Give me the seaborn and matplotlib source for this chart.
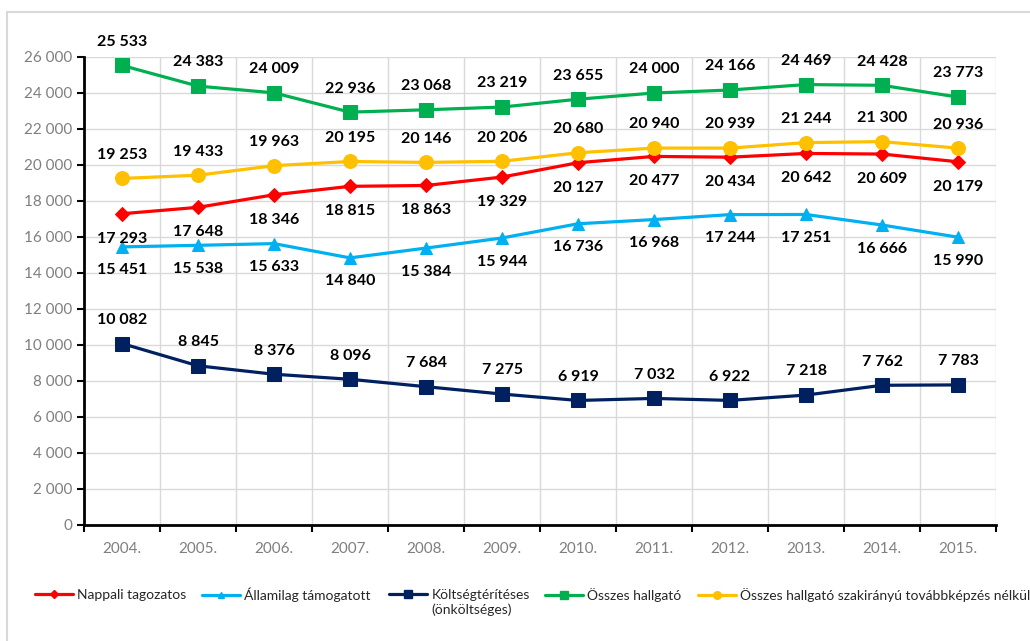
import numpy as np
import pandas as pd
import matplotlib.pyplot as plt
import seaborn as sns
from matplotlib.lines import Line2D
from matplotlib.patches import Rectangle
from matplotlib.ticker import FuncFormatter

# Chart data
years = ['2004.', '2005.', '2006.', '2007.', '2008.', '2009.',
         '2010.', '2011.', '2012.', '2013.', '2014.', '2015.']
nappali = [17293, 17648, 18346, 18815, 18863, 19329, 20127, 20477, 20434, 20642, 20609, 20179]
allami = [15451, 15538, 15633, 14840, 15384, 15944, 16736, 16968, 17244, 17251, 16666, 15990]
koltseg = [10082, 8845, 8376, 8096, 7684, 7275, 6919, 7032, 6922, 7218, 7762, 7783]
osszes = [25533, 24383, 24009, 22936, 23068, 23219, 23655, 24000, 24166, 24469, 24428, 23773]
osszes_nelkul = [19253, 19433, 19963, 20195, 20146, 20206, 20680, 20940, 20939, 21244, 21300, 20936]

series_names = ['Nappali tagozatos', 'Államilag támogatott',
                'Költségtérítéses', 'Összes hallgató',
                'Összes hallgató szakirányú továbbképzés nélkül']
koltseg_second_line = '(önköltséges)'
series_values = [nappali, allami, koltseg, osszes, osszes_nelkul]

# styles
colors = ['#FF0000', '#00B0F0', '#002060', '#00B050', '#FFC000']
markers = ['D', '^', 's', 's', 'o']
marker_sizes = [7, 9, 10, 10, 10]
label_offsets = [-18, -17, 17, 17, 17]
legend_x_px = [35, 202, 389, 545, 698]   # left edge of each legend entry

rows = []
for name, vals in zip(series_names, series_values):
    for i, (y, v) in enumerate(zip(years, vals)):
        rows.append({'pos': i, 'ev': y, 'sorozat': name, 'letszam': v})
df = pd.DataFrame(rows)

sns.set_theme(style='white')
plt.rcParams['font.family'] = ['Lato', 'DejaVu Sans']

fig = plt.figure(figsize=(10.3, 6.41), dpi=100)
ax = fig.add_axes([84 / 1030, 1 - 525 / 641, 912 / 1030, 468 / 641])

for name, c, m, ms, off in zip(series_names, colors, markers, marker_sizes, label_offsets):
    sub = df[df['sorozat'] == name]
    sns.lineplot(data=sub, x='pos', y='letszam', color=c, marker=m, markersize=ms,
                 markeredgecolor=c, linewidth=2.3, ax=ax, legend=False, zorder=3)
    for p, v in zip(sub['pos'], sub['letszam']):
        ax.annotate(f'{v:,}'.replace(',', ' '), (p, v), xytext=(0, off),
                    textcoords='offset points', ha='center', va='center',
                    fontsize=11.5, fontweight='bold', color='#000000', zorder=4)

ax.set_xlim(-0.5, len(years) - 0.5)
ax.set_ylim(0, 26000)
ax.set_yticks(np.arange(0, 26001, 2000))
ax.yaxis.set_major_formatter(FuncFormatter(lambda v, _: f'{int(v):,}'.replace(',', ' ')))

ax.set_xticks(np.arange(-0.5, len(years), 1))
ax.set_xticklabels([])
ax.set_xticks(np.arange(len(years)), minor=True)
ax.set_xticklabels(years, minor=True)

ax.grid(True, which='major', color='#D9D9D9', linewidth=1)
ax.set_axisbelow(True)
for s in ['top', 'right']:
    ax.spines[s].set_visible(False)
for s in ['left', 'bottom']:
    ax.spines[s].set_color('black')
    ax.spines[s].set_linewidth(2)

ax.tick_params(axis='both', which='major', direction='out', length=5, width=1.5,
               color='black', labelcolor='#7F7F7F', labelsize=11, left=True, bottom=True)
ax.tick_params(axis='x', which='minor', length=0, pad=12, labelcolor='#7F7F7F', labelsize=11)
ax.set_xlabel('')
ax.set_ylabel('')

# legend: one entry per legend so each sits where it does in the reference
legends = []
for name, c, m, ms, lx in zip(series_names, colors, markers, marker_sizes, legend_x_px):
    h = Line2D([0], [0], color=c, marker=m, markersize=ms * 0.55, linewidth=2.3)
    lg = fig.legend([h], [name], loc='center left',
                    bbox_to_anchor=(lx / 1030, 1 - 595 / 641),
                    frameon=False, fontsize=10, handlelength=2.75, handletextpad=0.3,
                    borderpad=0, borderaxespad=0, labelcolor='#262626')
    legends.append(lg)

# second line of the third legend label, under its first line
fig.canvas.draw()
bb = legends[2].get_texts()[0].get_window_extent().transformed(fig.transFigure.inverted())
fig.text(bb.x0, bb.y0 - 0.004, koltseg_second_line, ha='left', va='top',
         fontsize=10, color='#262626')

# outer chart frame
fig.patches.append(Rectangle((7 / 1030, -0.1), 1.2, 1.1 - 12 / 641, transform=fig.transFigure,
                             fill=False, edgecolor='#D9D9D9', linewidth=1.5, zorder=0))

fig.savefig('out.png', dpi=100)
